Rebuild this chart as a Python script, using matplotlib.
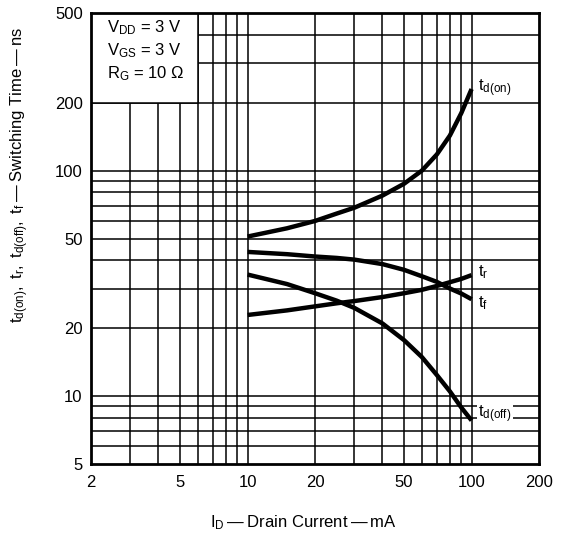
import matplotlib
matplotlib.use("Agg")
import matplotlib.pyplot as plt
from matplotlib.patches import Rectangle

plt.rcParams["font.family"] = ["Liberation Sans", "DejaVu Sans"]
plt.rcParams["mathtext.fontset"] = "custom"
plt.rcParams["mathtext.rm"] = "Liberation Sans"
plt.rcParams["mathtext.it"] = "Liberation Sans"

# drain current, mA
i_d = [10, 15, 20, 25, 30, 40, 50, 60, 70, 80, 90, 100]

# switching times, ns
t_don = [51, 55.5, 59.8, 64.5, 68.5, 77.5, 87.5, 100, 118, 143, 180, 230]
t_r = [22.9, 24.0, 25.0, 25.8, 26.4, 27.5, 28.6, 29.6, 30.8, 32.0, 33.1, 34.4]
t_f = [43.6, 42.6, 41.6, 41.0, 40.3, 38.5, 36.3, 34.0, 32.1, 30.0, 28.5, 26.9]
t_doff = [34.6, 31.4, 28.6, 26.5, 24.6, 21.0, 17.7, 14.9, 12.4, 10.5, 8.9, 7.8]

curve_labels = [r"$\mathregular{t_{d(on)}}$", r"$\mathregular{t_r}$",
                r"$\mathregular{t_f}$", r"$\mathregular{t_{d(off)}}$"]
label_y = [232, 35.5, 25.8, 8.3]

x_ticks = [2, 5, 10, 20, 50, 100, 200]
y_ticks = [5, 10, 20, 50, 100, 200, 500]
x_grid = [3, 4, 5, 6, 7, 8, 9, 10, 20, 30, 40, 50, 60, 70, 80, 90, 100]
y_grid = [6, 7, 8, 9, 10, 20, 30, 40, 50, 60, 70, 80, 90, 100, 200, 300, 400]

fig = plt.figure(figsize=(5.62, 5.39), dpi=100)
ax = fig.add_axes([91 / 562, 1 - 464 / 539, 448 / 562, 451 / 539])
ax.set_xscale("log")
ax.set_yscale("log")
ax.set_xlim(2, 200)
ax.set_ylim(5, 500)

for xv in x_grid:
    ax.axvline(xv, color="black", lw=1.1, zorder=1)
for yv in y_grid:
    ax.axhline(yv, color="black", lw=1.1, zorder=1)

# conditions box in the upper left corner
ax.add_patch(Rectangle((2, 200), 4, 300, facecolor="white", edgecolor="black",
                       lw=1.1, zorder=2))
ax.text(2.35, 430, r"$\mathregular{V_{DD}}$ = 3 V", fontsize=12, va="center", zorder=4)
ax.text(2.35, 340, r"$\mathregular{V_{GS}}$ = 3 V", fontsize=12, va="center", zorder=4)
ax.text(2.35, 270, r"$\mathregular{R_G}$ = 10 Ω", fontsize=12, va="center", zorder=4)

for ys, lab, ly in zip([t_don, t_r, t_f, t_doff], curve_labels, label_y):
    ax.plot(i_d, ys, color="black", lw=3.2, solid_capstyle="butt",
            solid_joinstyle="round", zorder=3)
    ax.text(107, ly, lab, fontsize=12, va="center", ha="left", zorder=4,
            bbox=dict(facecolor="white", edgecolor="none", pad=1))

ax.set_xticks(x_ticks)
ax.set_xticklabels([str(v) for v in x_ticks])
ax.set_yticks(y_ticks)
ax.set_yticklabels([str(v) for v in y_ticks])
ax.minorticks_off()
ax.tick_params(length=0, labelsize=12, pad=8)
ax.tick_params(axis="y", pad=6)
for sp in ax.spines.values():
    sp.set_linewidth(2)
    sp.set_zorder(5)

dash = "\u2009\u2014\u2009"
fig.text(303 / 562, 1 - 523 / 539,
         r"$\mathregular{I_D}$" + dash + "Drain Current" + dash + "mA",
         fontsize=12, ha="center", va="center")
fig.text(20 / 562, 1 - 175 / 539,
         r"$\mathregular{t_{d(on)},\ t_r,\ t_{d(off)},\ t_f}$" + dash
         + "Switching Time" + dash + "ns",
         fontsize=12, ha="center", va="center", rotation=90)

fig.savefig("out.png", dpi=100)
